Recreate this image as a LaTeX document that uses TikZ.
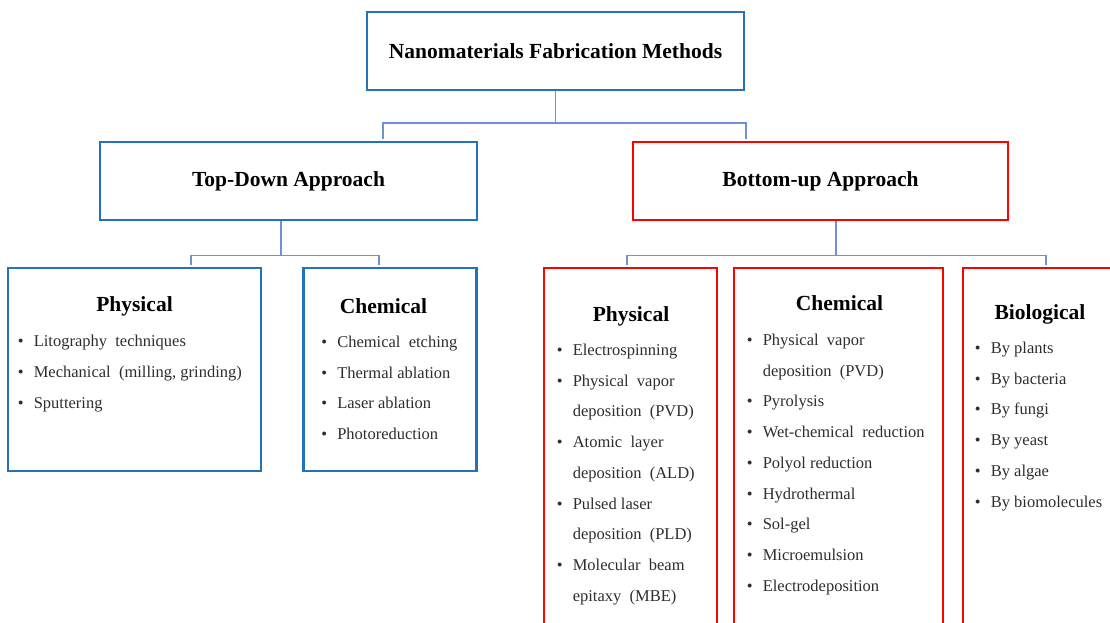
\documentclass[tikz,border=0pt]{standalone}
\usepackage{fontspec}
\setmainfont{Liberation Serif}
\usetikzlibrary{positioning, calc}
\definecolor{clrBl}{RGB}{ 36,114,190}
\definecolor{clrRd}{RGB}{255,  0,  0}
\definecolor{clrLn}{RGB}{112,146,212}
\definecolor{clrTx}{RGB}{ 45, 45, 45}
\newcommand{\itemdot}{\makebox[16pt][l]{\textbullet}}
\newcommand{\itemgap}{\hspace*{16pt}}

\begin{document}
\begin{tikzpicture}[x=1pt, y=-1pt,
  %% -- box styles --------------------------------------------------------
  bnode/.style = {rectangle, draw=clrBl, line width=2.8pt, inner sep=0pt,
                  align=center, font=\fontsize{21.5}{24}\selectfont\bfseries},
  rnode/.style = {bnode, draw=clrRd},
  %% -- text / line styles -----------------------------------------------
  conn/.style  = {draw=clrLn, line width=1.8pt, shorten >=1.4pt},
  hd/.style    = {anchor=base, inner sep=0pt,
                  font=\fontsize{21.5}{24}\selectfont\bfseries},
  lst/.style   = {anchor=north west, inner sep=0pt, align=left, text=clrTx,
                  font=\fontsize{16.5}{30.75}\selectfont},
]
\clip (0,0) rectangle (1110,623);

%% == level 0 ==============================================================
\node[bnode, minimum width=377pt, minimum height=78pt] (root) at (555.5,51)
      {Nanomaterials Fabrication Methods};

%% == level 1 ==============================================================
\node[bnode, minimum width=377pt, minimum height=78pt] (td) at (288.5,181)
      {Top-Down Approach};
\node[rnode, minimum width=375pt, minimum height=78pt] (bu) at (820.5,181)
      {Bottom-up Approach};

%% == level 2: top-down ====================================================
\node[bnode, minimum width=253pt, minimum height=203pt] (tdphys) at (134.5,369.5) {};
\node[bnode, minimum width=173pt, minimum height=203pt] (tdchem) at (390,369.5)  {};

%% == level 2: bottom-up (run off the page) ================================
\node[rnode, minimum width=173pt, minimum height=382pt] (buphys) at (630.5,459)  {};
\node[rnode, minimum width=209pt, minimum height=382pt] (buchem) at (838.5,459)  {};
\node[rnode, minimum width=155pt, minimum height=382pt] (bubio)  at (1040.5,459) {};

%% -- connectors -----------------------------------------------------------
\draw[conn] (root.south) -- ++(0,32) -| ($(td.north west)+(284,0)$);
\draw[conn] (root.south) -- ++(0,32) -| ($(bu.north west)+(114,0)$);
\draw[conn] ($(td.south west)+(182,0)$) -- ++(0,34) -| ($(tdphys.north west)+(184,0)$);
\draw[conn] ($(td.south west)+(182,0)$) -- ++(0,34) -| ($(tdchem.north west)+(77,0)$);
\draw[conn] ($(bu.south west)+(204,0)$) -- ++(0,34) -| ($(buphys.north west)+(84,0)$);
\draw[conn] ($(bu.south west)+(204,0)$) -- ++(0,34) -| ($(bubio.north west)+(84,0)$);

%% -- box headings ---------------------------------------------------------
\node[hd] (tdphysT) at ($(tdphys.north)+(0,45)$)    {Physical};
\node[hd] (tdchemT) at ($(tdchem.north)+(-6.5,47)$) {Chemical};
\node[hd] (buphysT) at ($(buphys.north)+(0.5,55)$)  {Physical};
\node[hd] (buchemT) at ($(buchem.north)+(1,44)$)    {Chemical};
\node[hd] (bubioT)  at ($(bubio.north)+(-0.5,53)$)  {Biological};

%% -- item lists -----------------------------------------------------------
\node[lst] (tdphysL) at ($(tdphys.north west)+(11,58.5)$)
      {\strut\itemdot Litography\ \ techniques\\
       \itemdot Mechanical\ \ (milling, grinding)\\
       \itemdot Sputtering};
\node[lst] (tdchemL) at ($(tdchem.north west)+(19,59)$)
      {\strut\itemdot Chemical\ \ etching\\
       \itemdot Thermal ablation\\
       \itemdot Laser ablation\\
       \itemdot Photoreduction};
\node[lst] (buphysL) at ($(buphys.north west)+(14,67)$)
      {\strut\itemdot Electrospinning\\
       \itemdot Physical\ \ vapor\\
       \itemgap deposition\ \ (PVD)\\
       \itemdot Atomic\ \ layer\\
       \itemgap deposition\ \ (ALD)\\
       \itemdot Pulsed laser\\
       \itemgap deposition\ \ (PLD)\\
       \itemdot Molecular\ \ beam\\
       \itemgap epitaxy\ \ (MBE)};
\node[lst] (buchemL) at ($(buchem.north west)+(14,57)$)
      {\strut\itemdot Physical\ \ vapor\\
       \itemgap deposition\ \ (PVD)\\
       \itemdot Pyrolysis\\
       \itemdot Wet-chemical\ \ reduction\\
       \itemdot Polyol reduction\\
       \itemdot Hydrothermal\\
       \itemdot Sol-gel\\
       \itemdot Microemulsion\\
       \itemdot Electrodeposition};
\node[lst] (bubioL) at ($(bubio.north west)+(13,65)$)
      {\strut\itemdot By plants\\
       \itemdot By bacteria\\
       \itemdot By fungi\\
       \itemdot By yeast\\
       \itemdot By algae\\
       \itemdot By biomolecules};

\end{tikzpicture}
\end{document}
